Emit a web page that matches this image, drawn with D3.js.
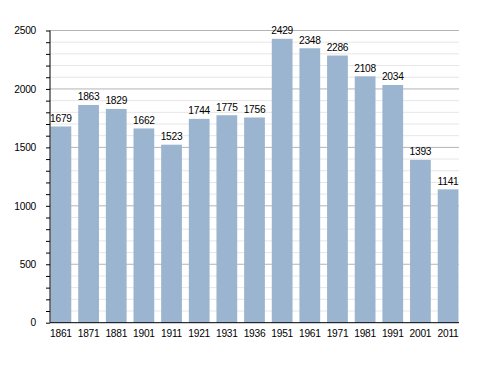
<!DOCTYPE html>
<html><head><meta charset="utf-8">
<script src="https://cdn.jsdelivr.net/npm/d3@7"></script>
<style>body{margin:0;background:#fff}svg{display:block}text{font-family:"Liberation Sans",Arial,sans-serif}</style>
</head><body>
<script>
const years = ["1861","1871","1881","1901","1911","1921","1931","1936","1951","1961","1971","1981","1991","2001","2011"];
const population = [1679,1863,1829,1662,1523,1744,1775,1756,2429,2348,2286,2108,2034,1393,1141];
const majorTicks = [0,500,1000,1500,2000,2500];

const W=488,H=373;
const mLeft=50,mRight=459,mTop=30.5,mBottom=322.7;
const FS=10.2, LS=-0.25;
const svg=d3.select("body").append("svg").attr("width",W).attr("height",H);
const x=d3.scaleBand().domain(years).range([mLeft,mRight]).paddingInner(0.25).paddingOuter(0.02);
const y=d3.scaleLinear().domain([0,2500]).range([mBottom,mTop]);

const minor=d3.range(0,2501,100).filter(v=>v%500!==0);
svg.append("g").selectAll("line").data(minor).join("line")
 .attr("x1",mLeft).attr("x2",mRight).attr("y1",d=>y(d)).attr("y2",d=>y(d))
 .attr("stroke","#e6e6e6").attr("stroke-width",1);
svg.append("g").selectAll("line").data(majorTicks.filter(d=>d>0)).join("line")
 .attr("x1",mLeft).attr("x2",mRight).attr("y1",d=>y(d)).attr("y2",d=>y(d))
 .attr("stroke","#b4b4b4").attr("stroke-width",1);

svg.append("g").selectAll("rect").data(population).join("rect")
 .attr("x",(d,i)=>x(years[i])).attr("width",x.bandwidth())
 .attr("y",d=>y(d)).attr("height",d=>mBottom-y(d)).attr("fill","#9bb4cf");

svg.append("g").selectAll("text").data(population).join("text")
 .attr("x",(d,i)=>x(years[i])+x.bandwidth()/2).attr("y",d=>y(d)-4.5)
 .attr("text-anchor","middle").attr("font-size",FS).attr("letter-spacing",LS).attr("fill","#000").text(d=>d);

// y axis
const ya=svg.append("g").attr("transform",`translate(${mLeft},0)`)
 .call(d3.axisLeft(y).tickValues(d3.range(0,2501,100)).tickSize(4).tickFormat(d=>d%500===0?d:""));
ya.select(".domain").attr("d",`M0,${mBottom}V${mTop}`).attr("stroke","#000");
ya.selectAll(".tick line").attr("stroke","#000");
ya.selectAll(".tick text").attr("font-size",FS).attr("letter-spacing",LS).attr("x",-14).attr("fill","#000").attr("font-family","Liberation Sans, Arial, sans-serif");

// x axis
const xa=svg.append("g").attr("transform",`translate(0,${mBottom})`)
 .call(d3.axisBottom(x).tickSize(0).tickPadding(7));
xa.select(".domain").attr("d",`M${mLeft},0H${mRight}`).attr("stroke","#000");
xa.selectAll(".tick text").attr("font-size",FS).attr("letter-spacing",LS).attr("fill","#000").attr("font-family","Liberation Sans, Arial, sans-serif");
</script>
</body></html>
